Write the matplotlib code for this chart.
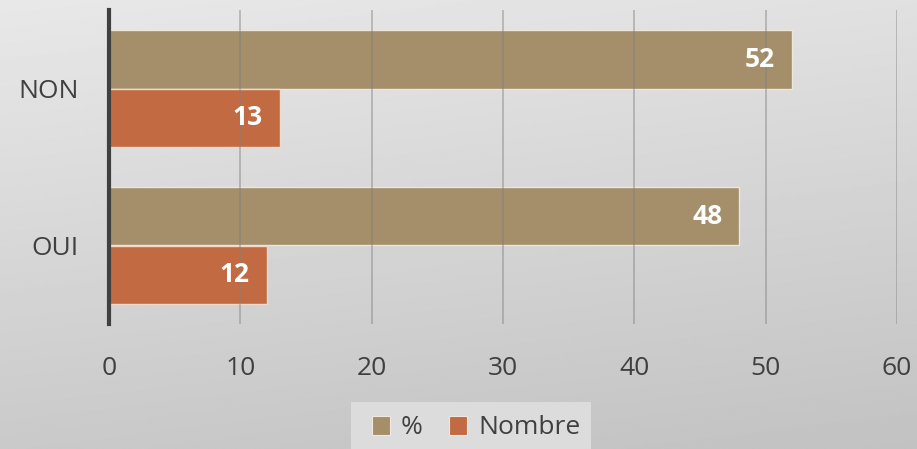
import numpy as np
import matplotlib.pyplot as plt
from matplotlib.patches import Patch, Rectangle

categories = ["OUI", "NON"]
pct = [48, 52]
nombre = [12, 13]
series_names = ["%", "Nombre"]
colors = ["#a58e6a", "#c26b43"]
xticks = [0, 10, 20, 30, 40, 50, 60]

plt.rcParams["font.family"] = ["Open Sans", "DejaVu Sans"]

W, H = 917, 449
fig = plt.figure(figsize=(W / 100, H / 100), dpi=100)

# gradient background
bg = fig.add_axes([0, 0, 1, 1], zorder=-10)
yy, xx = np.mgrid[0:1:200j, 0:1:400j]
grad = 0.91 - 0.12 * yy - 0.03 * xx
bg.imshow(grad, cmap="gray", vmin=0, vmax=1, aspect="auto",
          extent=[0, 1, 0, 1], origin="upper")
bg.axis("off")

# axes in pixel coordinates
x0, x1, y_top, y_bot = 109, 897, 10, 324
ax = fig.add_axes([x0 / W, 1 - y_bot / H, (x1 - x0) / W, (y_bot - y_top) / H])
ax.patch.set_alpha(0)

y = np.arange(len(categories))
h = 0.375
bars_p = ax.barh(y + h / 2, pct, height=h, color=colors[0],
                 edgecolor="#ece6dc", linewidth=1, zorder=2)
bars_n = ax.barh(y - h / 2, nombre, height=h, color=colors[1],
                 edgecolor="#f0d8cc", linewidth=1, zorder=2)

for bars, vals in [(bars_p, pct), (bars_n, nombre)]:
    for b, v in zip(bars, vals):
        ax.text(v - 1.3, b.get_y() + b.get_height() / 2, str(v),
                ha="right", va="center", color="white",
                fontsize=19, fontweight="bold", zorder=4)

ax.set_xlim(0, 60)
ax.set_ylim(-0.5, 1.5)
ax.set_xticks(xticks)
ax.set_yticks(y)
ax.set_yticklabels(categories)
ax.tick_params(axis="x", length=0, pad=23, labelsize=19, labelcolor="#404040")
ax.tick_params(axis="y", length=0, pad=22, labelsize=19, labelcolor="#404040")
ax.grid(axis="x", color="#808080", linewidth=1.1, alpha=0.55, zorder=3)
ax.set_axisbelow(False)
for s in ["top", "right", "bottom"]:
    ax.spines[s].set_visible(False)
ax.spines["left"].set_color("#404040")
ax.spines["left"].set_linewidth(3)
ax.spines["left"].set_zorder(5)

# legend box
fig.patches.append(Rectangle((351 / W, 0), 240 / W, 47 / H,
                             transform=fig.transFigure, facecolor="#dcdcdc",
                             edgecolor="none", zorder=-5))
handles = [Patch(facecolor=c, edgecolor="#f0e8e0", linewidth=0.8) for c in colors]
fig.legend(handles, series_names, loc="center", ncol=2,
           bbox_to_anchor=(476 / W, 1 - 428 / H), frameon=False,
           fontsize=19, labelcolor="#404040", handlelength=0.7,
           handleheight=0.7, handletextpad=0.4, columnspacing=1.0)

fig.savefig("out.png", dpi=100)
